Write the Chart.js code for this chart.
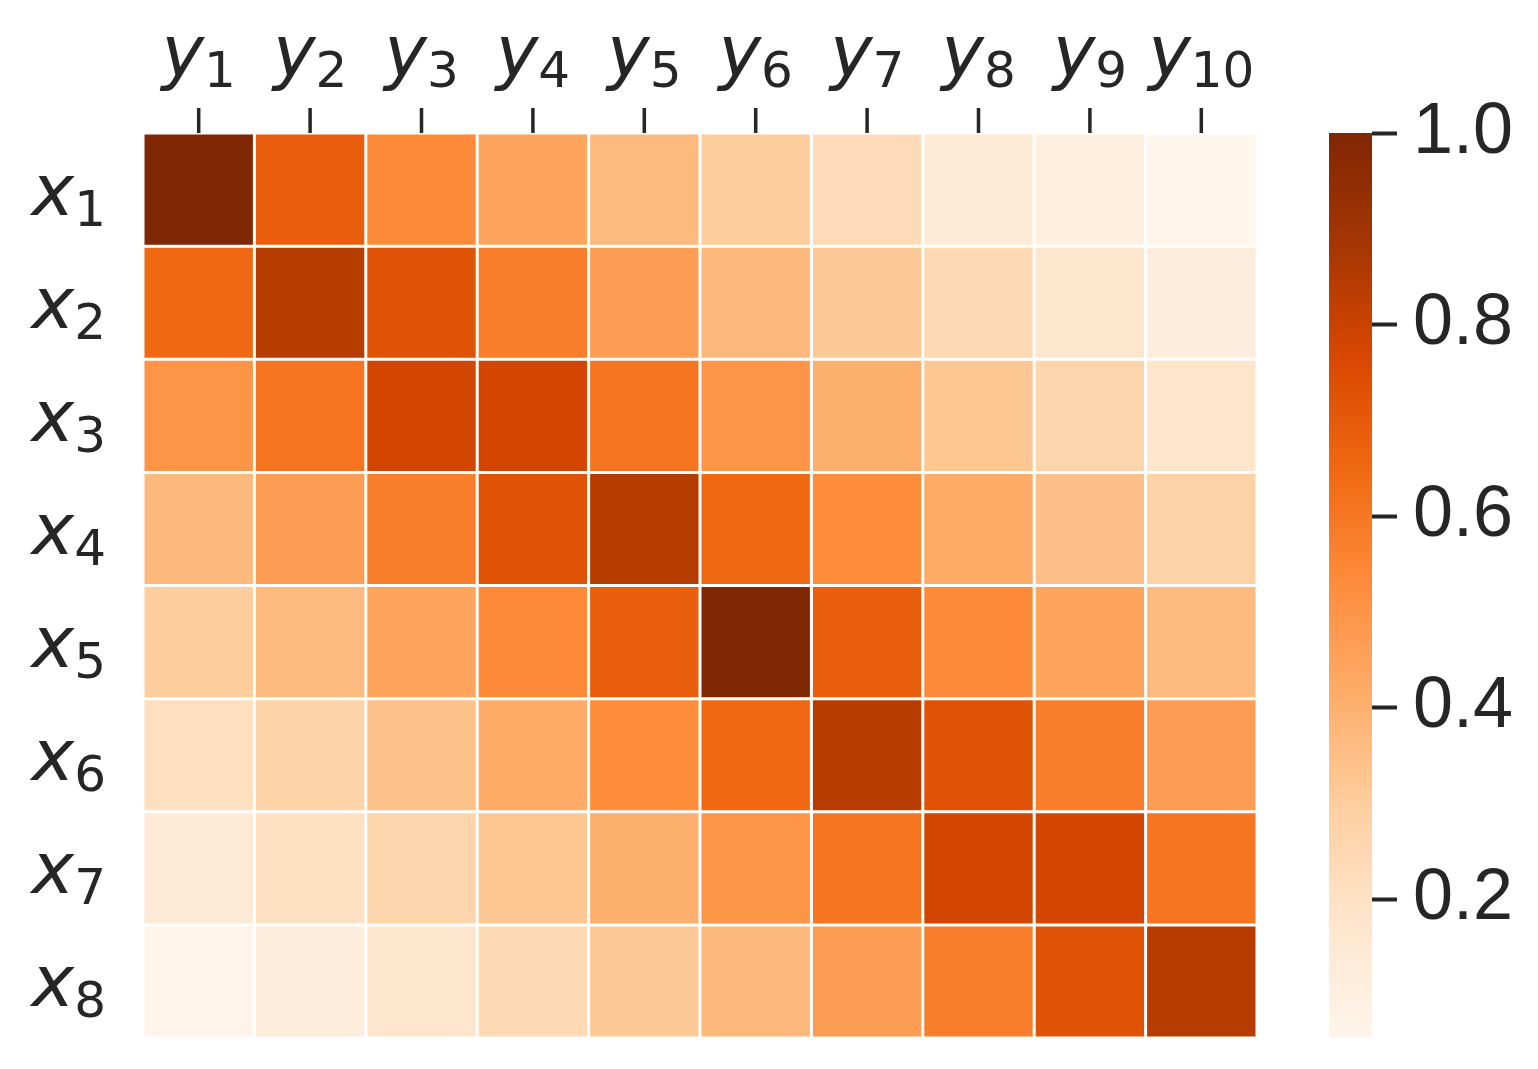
<!DOCTYPE html>
<html>
<head>
<meta charset="utf-8">
<script src="https://cdn.jsdelivr.net/npm/chart.js@4.4.1/dist/chart.umd.min.js"></script>
<style>
  body { margin: 0; background: #fff; }
  #wrap { position: relative; width: 1538px; height: 1069px; }
  #heat { position: absolute; left: 0; top: 0; }
  #cbar { position: absolute; left: 1300px; top: 0; }
</style>
</head>
<body>
<div id="wrap">
  <canvas id="heat" width="1538" height="1069"></canvas>
  <canvas id="cbar" width="238" height="1069"></canvas>
</div>
<script>
// rows x1..x8, columns y1..y10
const rowLabels = ['x1', 'x2', 'x3', 'x4', 'x5', 'x6', 'x7', 'x8'];
const colLabels = ['y1', 'y2', 'y3', 'y4', 'y5', 'y6', 'y7', 'y8', 'y9', 'y10'];

const x1Vals = [1.00, 0.685, 0.537, 0.445, 0.368, 0.302, 0.232, 0.142, 0.102, 0.055];
const x2Vals = [0.65, 0.845, 0.728, 0.577, 0.47, 0.375, 0.316, 0.243, 0.173, 0.118];
const x3Vals = [0.503, 0.606, 0.778, 0.778, 0.606, 0.503, 0.402, 0.322, 0.264, 0.179];
const x4Vals = [0.375, 0.47, 0.577, 0.728, 0.845, 0.65, 0.53, 0.42, 0.35, 0.28];
const x5Vals = [0.302, 0.368, 0.445, 0.537, 0.685, 1.00, 0.685, 0.537, 0.445, 0.368];
const x6Vals = [0.21, 0.275, 0.343, 0.42, 0.53, 0.65, 0.845, 0.728, 0.577, 0.47];
const x7Vals = [0.142, 0.205, 0.264, 0.322, 0.402, 0.503, 0.606, 0.778, 0.778, 0.606];
const x8Vals = [0.065, 0.118, 0.173, 0.243, 0.316, 0.375, 0.47, 0.577, 0.728, 0.845];

const cbTicks = [0.2, 0.4, 0.6, 0.8, 1.0];

const values = [x1Vals, x2Vals, x3Vals, x4Vals, x5Vals, x6Vals, x7Vals, x8Vals];
const vmin = Math.min(...values.flat());
const vmax = Math.max(...values.flat());

// matplotlib "Oranges"
const oranges = [
  [254, 245, 235], [254, 230, 206], [253, 208, 162], [253, 174, 107], [253, 141, 60],
  [241, 105, 19], [217, 72, 1], [166, 54, 3], [127, 39, 4]
];
function cmap(v) {
  let t = (v - vmin) / (vmax - vmin);
  t = Math.max(0, Math.min(1, t)) * (oranges.length - 1);
  const i = Math.min(Math.floor(t), oranges.length - 2);
  const f = t - i;
  const a = oranges[i], b = oranges[i + 1];
  const c = a.map((x, k) => Math.round(x + (b[k] - x) * f));
  return 'rgb(' + c.join(',') + ')';
}

const textColor = '#262626';

function drawSub(ctx, label, x, base, align) {
  const letter = label[0], num = label.slice(1);
  const big = 'italic 72px "DejaVu Sans"', small = '50px "DejaVu Sans"';
  ctx.font = big;
  const w1 = ctx.measureText(letter).width;
  ctx.font = small;
  const w2 = ctx.measureText(num).width;
  let start = align === 'center' ? x - (w1 + w2) / 2 : x - (w1 + w2);
  ctx.textAlign = 'left';
  ctx.textBaseline = 'alphabetic';
  ctx.fillStyle = textColor;
  ctx.font = big;
  ctx.fillText(letter, start, base);
  ctx.font = small;
  ctx.fillText(num, start + w1, base + 11);
}

const labelPlugin = {
  id: 'mathLabels',
  afterDraw(chart) {
    const ctx = chart.ctx;
    const xs = chart.scales.x, ys = chart.scales.y;
    ctx.save();
    colLabels.forEach((lab, j) => {
      const cx = xs.getPixelForValue(j + 0.5);
      ctx.strokeStyle = textColor;
      ctx.lineWidth = 3.5;
      ctx.beginPath();
      ctx.moveTo(cx, chart.chartArea.top - 25);
      ctx.lineTo(cx, chart.chartArea.top);
      ctx.stroke();
      drawSub(ctx, lab, cx, chart.chartArea.top - 57, 'center');
    });
    rowLabels.forEach((lab, i) => {
      const cy = ys.getPixelForValue(i);
      drawSub(ctx, lab, chart.chartArea.left - 37, cy + 25, 'right');
    });
    ctx.restore();
  }
};

new Chart(document.getElementById('heat'), {
  type: 'bar',
  data: {
    labels: rowLabels,
    datasets: colLabels.map((c, j) => ({
      label: c,
      data: rowLabels.map(() => 1),
      backgroundColor: values.map(row => cmap(row[j])),
      borderColor: '#ffffff',
      borderWidth: 1.5,
      borderSkipped: false,
      inflateAmount: 0,
      barPercentage: 1,
      categoryPercentage: 1
    }))
  },
  options: {
    indexAxis: 'y',
    responsive: false,
    animation: false,
    layout: { padding: { left: 143, top: 133, right: 281, bottom: 31 } },
    plugins: { legend: { display: false }, tooltip: { enabled: false } },
    scales: {
      x: { type: 'linear', min: 0, max: colLabels.length, stacked: true, display: false },
      y: { type: 'category', stacked: true, display: false }
    }
  },
  plugins: [labelPlugin]
});

// colour bar
new Chart(document.getElementById('cbar'), {
  type: 'bar',
  data: {
    labels: ['cb'],
    datasets: [{
      data: [[vmin, vmax]],
      borderWidth: 0,
      inflateAmount: 0,
      barPercentage: 1,
      categoryPercentage: 1,
      backgroundColor(context) {
        const area = context.chart.chartArea;
        if (!area) return null;
        const g = context.chart.ctx.createLinearGradient(0, area.bottom, 0, area.top);
        oranges.forEach((c, k) => g.addColorStop(k / (oranges.length - 1), 'rgb(' + c.join(',') + ')'));
        return g;
      }
    }]
  },
  options: {
    responsive: false,
    animation: false,
    layout: { padding: { left: 29, top: 133, right: 0, bottom: 31 } },
    plugins: { legend: { display: false }, tooltip: { enabled: false } },
    scales: {
      x: { display: false },
      y: {
        position: 'right',
        min: vmin,
        max: vmax,
        afterBuildTicks(s) { s.ticks = cbTicks.map(v => ({ value: v })); },
        afterFit(s) { s.width = 166; s.paddingTop = 0; s.paddingBottom = 0; },
        grid: { drawOnChartArea: false, drawTicks: true, tickLength: 25, tickWidth: 4, tickColor: textColor },
        border: { display: false },
        ticks: {
          autoSkip: false,
          padding: 16,
          color: textColor,
          font: { family: '"Liberation Sans", Arial, sans-serif', size: 72 },
          callback: v => v.toFixed(1)
        }
      }
    }
  }
});
</script>
</body>
</html>
